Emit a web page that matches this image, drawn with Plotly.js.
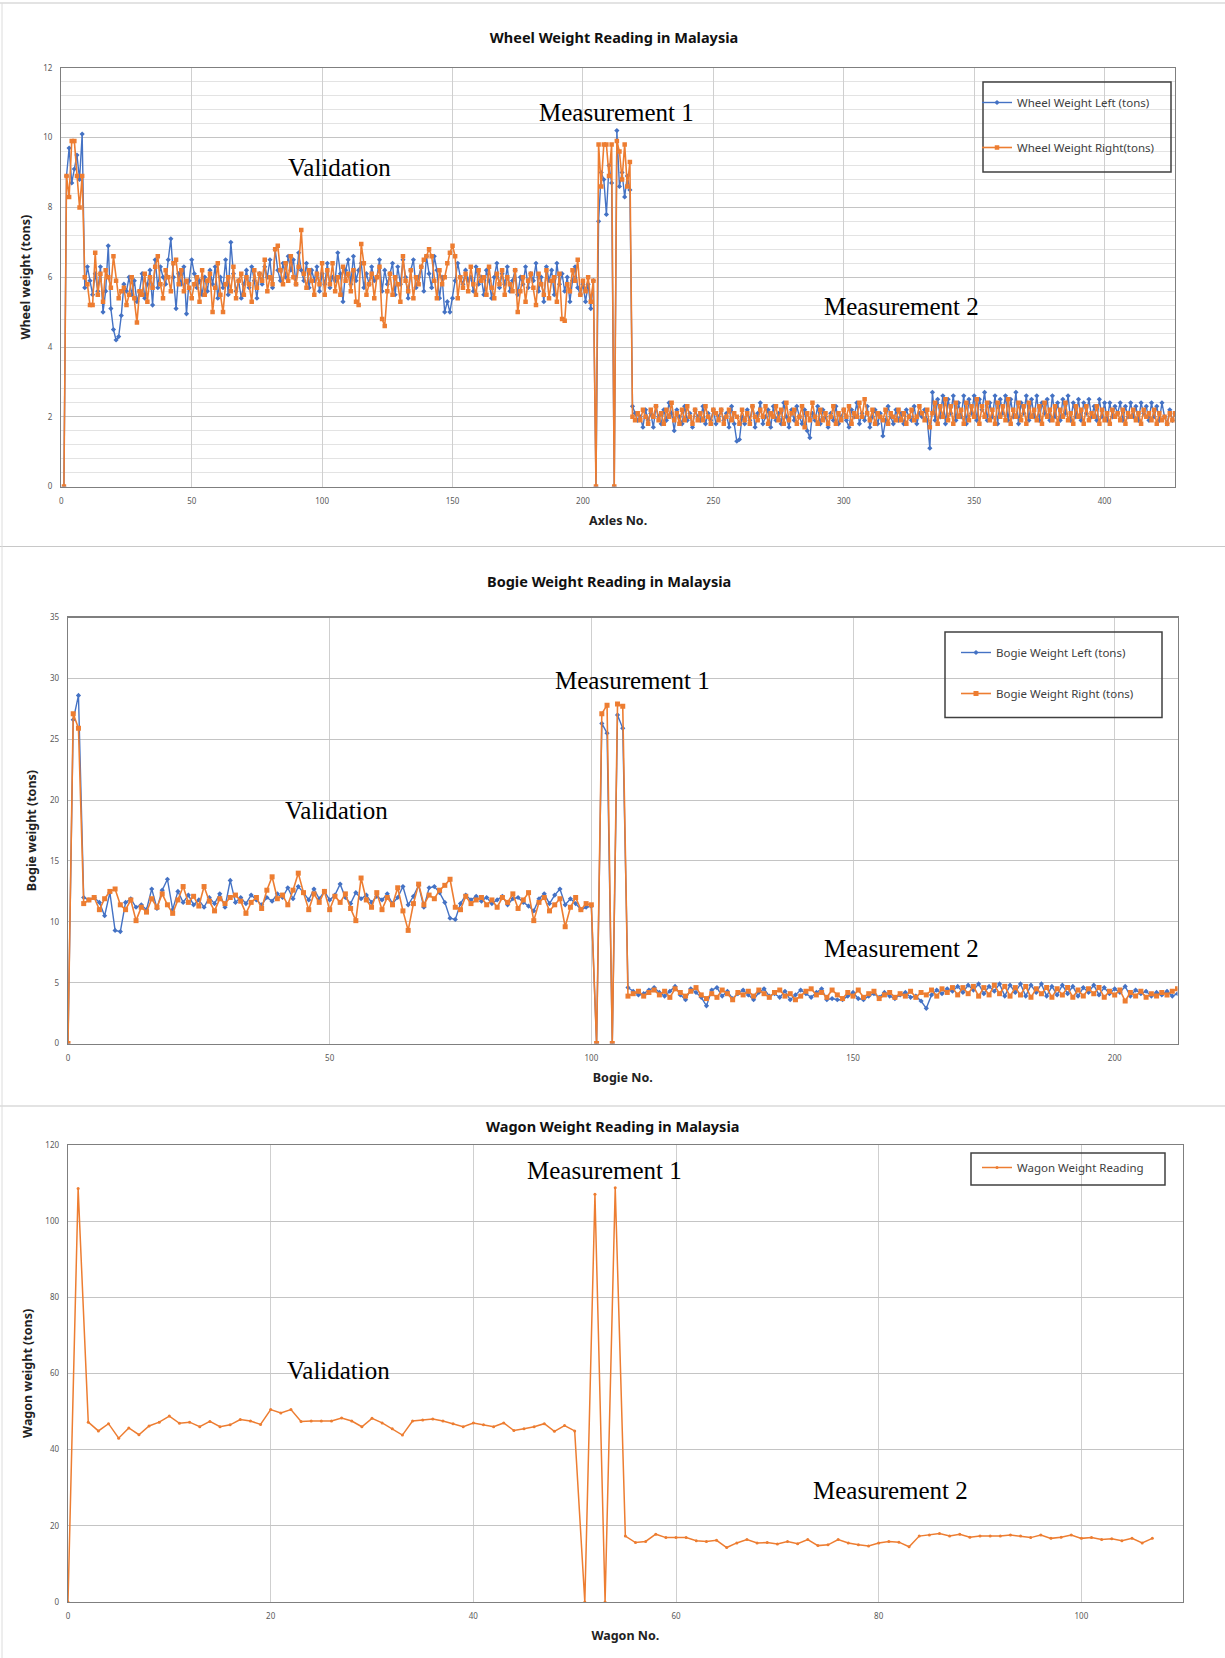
<!DOCTYPE html>
<html>
<head>
<meta charset="utf-8">
<script src="https://cdn.plot.ly/plotly-3.0.1.min.js"></script>
<style>
html,body{margin:0;padding:0;background:#fff;}
#chart{width:1225px;height:1658px;}
</style>
</head>
<body>
<div id="chart"></div>
<script>
// ---------------- DATA ----------------
// Wheel weight (axle 1..427)
const wheelStart = 1;
const wheelLeft = [
0,8.9,9.7,8.7,9.1,9.5,8.8,10.1,5.7,6.3,
5.9,5.5,6.1,5.6,6.3,5.0,5.6,6.9,5.1,4.5,
4.2,4.3,4.9,5.8,5.6,6.0,5.5,5.9,5.3,5.6,
6.1,5.4,5.8,6.2,5.2,6.5,5.7,6.3,6.0,5.8,
6.5,7.1,6.0,5.1,6.1,5.8,6.3,4.95,5.9,6.5,
6.1,5.7,5.9,5.5,6.0,5.6,6.2,5.8,6.3,5.4,
6.0,5.7,6.5,5.5,7.0,6.1,5.6,5.9,5.4,5.8,
6.2,5.7,6.3,5.9,5.4,6.1,5.8,6.3,6.0,6.5,
5.7,6.8,6.2,5.9,6.4,6.0,6.6,6.2,6.5,5.8,
6.7,6.2,5.9,6.4,5.7,6.2,5.9,6.3,5.6,6.1,
5.8,6.4,5.7,6.0,5.9,6.7,6.1,5.3,6.2,6.5,
5.8,6.6,5.9,6.2,6.4,5.7,6.1,5.8,6.3,5.9,
6.0,6.5,5.6,6.2,5.8,6.1,6.4,5.5,6.3,5.8,
6.5,6.0,5.4,6.2,6.5,5.7,6.0,6.3,5.6,6.6,
6.1,5.7,6.6,6.2,5.4,6.0,5.0,5.3,5.0,5.4,
5.9,6.4,6.0,5.8,6.2,5.9,6.0,5.6,6.3,5.8,
6.0,5.5,6.2,5.9,5.4,6.0,6.4,5.7,6.1,5.8,
6.3,5.6,5.9,6.2,5.5,6.0,5.8,6.3,5.7,6.1,
5.9,6.4,5.6,6.0,5.3,6.3,5.9,6.2,5.5,6.4,
5.8,6.1,5.6,6.0,5.3,5.9,6.3,5.7,5.5,5.8,
5.3,5.8,5.1,5.9,0,7.6,9.0,8.8,7.8,9.2,
8.7,0,10.2,8.6,9.0,8.3,8.9,8.5,2.3,2.1,
1.9,2.0,1.7,2.2,1.9,2.1,1.7,2.3,2.0,1.8,
2.2,1.9,2.4,2.1,1.6,2.2,2.0,1.8,2.3,1.9,
2.1,1.7,2.2,2.0,1.9,2.3,1.8,2.1,1.9,2.2,
1.8,2.0,2.2,1.9,2.1,1.7,2.3,1.8,1.3,1.35,
2.0,1.8,2.2,1.9,2.3,1.7,2.1,2.4,1.8,2.0,
2.2,1.7,2.3,1.9,2.1,1.8,2.4,2.0,1.7,2.2,
1.9,2.3,2.0,1.8,2.2,1.6,1.4,2.1,1.9,2.3,
1.8,2.2,2.0,1.7,2.1,1.9,2.3,1.8,2.0,2.2,
1.9,1.7,2.2,2.0,2.4,1.8,2.1,1.9,2.3,1.7,
2.0,2.2,1.8,2.1,1.45,1.9,2.3,2.0,1.8,2.2,
1.9,2.1,1.8,2.2,2.0,1.9,2.3,1.8,2.1,2.0,
2.2,1.9,1.1,2.7,1.9,2.5,2.0,2.6,1.8,2.5,
2.1,2.6,1.9,2.4,2.0,2.6,1.8,2.5,2.1,2.6,
1.9,2.5,2.2,2.7,1.9,2.4,2.0,2.6,1.8,2.5,
2.1,2.6,1.9,2.5,2.0,2.7,1.8,2.4,2.1,2.6,
1.9,2.5,2.0,2.6,1.9,2.4,2.1,2.5,1.9,2.6,
2.0,2.4,1.9,2.5,2.1,2.6,1.9,2.4,2.0,2.5,
1.9,2.4,2.1,2.5,2.0,2.3,1.9,2.5,2.0,2.4,
1.9,2.4,2.0,2.3,2.1,2.4,1.9,2.3,2.0,2.4,
2.0,2.3,1.9,2.4,2.1,2.3,1.9,2.4,2.0,2.3,
1.9,2.4,2.0,1.8,2.2,1.9,2.1
];
const wheelRight = [
0,8.9,8.3,9.9,9.9,8.9,8.0,8.9,6.0,5.8,
5.2,5.2,6.7,5.5,6.1,5.3,6.2,6.0,5.7,6.6,
5.9,5.4,5.6,5.7,5.2,5.5,6.0,5.4,4.7,5.6,
5.5,6.1,5.3,6.0,5.7,6.3,6.6,5.8,5.4,6.2,
6.0,5.6,6.4,6.5,5.8,6.2,5.6,5.9,5.7,5.4,
5.8,6.0,5.3,6.2,5.5,5.9,6.1,5.0,5.7,6.4,
5.5,5.0,5.8,6.0,5.6,6.3,5.4,5.9,6.1,5.5,
6.0,5.8,5.3,6.2,5.7,6.1,5.9,6.5,5.6,6.0,
5.8,6.8,6.9,6.2,5.8,6.4,5.9,6.6,6.0,5.8,
6.3,7.35,6.1,5.7,6.2,5.9,5.5,6.1,5.8,6.4,
5.5,6.2,5.8,6.4,5.6,6.0,5.5,6.3,5.9,6.1,
5.6,6.2,5.3,5.2,6.95,6.4,5.5,5.8,6.1,5.4,
6.0,6.3,4.8,4.6,5.6,6.1,5.5,6.0,5.8,5.3,
6.6,5.9,5.6,6.2,5.4,6.0,5.8,6.3,6.5,6.6,
6.8,6.6,5.9,5.4,6.2,5.8,6.0,6.4,6.7,6.9,
6.6,5.4,6.0,5.7,6.1,5.6,6.3,5.8,5.5,6.2,
5.9,6.0,5.5,6.3,5.7,5.4,6.1,5.8,6.2,5.5,
6.0,5.8,5.6,6.2,5.0,5.6,6.0,5.3,5.9,6.1,
5.7,5.2,6.1,5.8,5.5,6.2,5.4,5.9,6.0,5.3,
6.1,4.8,4.75,5.8,5.6,6.2,5.9,6.5,5.5,5.9,
5.6,6.0,5.3,5.9,0,9.8,8.6,9.8,9.8,8.9,
9.8,0,9.9,9.6,8.8,9.8,8.6,9.3,2.0,1.9,
2.1,1.9,2.2,2.0,1.8,2.2,2.0,2.3,1.9,2.1,
1.8,2.2,2.0,2.4,1.9,2.1,1.8,2.2,1.9,2.3,
2.0,1.8,2.2,1.9,2.1,1.9,2.3,2.0,1.8,2.2,
2.1,1.9,2.2,1.8,2.0,2.2,1.9,2.1,2.0,1.8,
2.2,1.9,2.1,1.8,2.3,2.0,1.9,2.2,2.0,2.3,
1.8,2.1,2.0,2.3,1.9,2.2,1.8,2.4,1.9,2.1,
2.2,1.8,2.0,2.3,1.7,2.1,1.9,2.4,2.0,1.8,
2.2,1.9,2.1,1.8,2.0,2.3,1.8,2.1,1.9,2.2,
2.0,2.3,1.8,2.1,2.0,2.4,2.0,2.5,2.1,1.9,
2.2,1.8,2.1,2.0,1.9,2.2,1.8,2.1,2.0,1.9,
2.2,1.9,2.1,1.8,2.0,2.2,1.9,2.0,2.3,2.1,
1.9,2.2,1.7,2.1,2.4,1.8,2.3,2.0,2.5,1.9,
2.3,1.8,2.4,2.0,2.2,1.8,2.4,1.9,2.3,2.0,
2.5,1.8,2.3,2.0,2.4,1.9,2.2,1.8,2.4,2.0,
2.3,1.9,2.5,1.8,2.2,2.0,2.4,1.9,2.3,1.8,
2.4,2.0,2.2,1.9,2.3,1.8,2.4,2.0,2.2,1.9,
2.3,1.8,2.2,2.0,2.4,1.9,2.1,1.8,2.3,2.0,
2.2,1.8,2.3,1.9,2.1,2.0,2.3,1.8,2.2,1.9,
2.1,1.8,2.2,2.0,2.1,1.9,2.2,1.8,2.1,2.0,
2.2,1.9,2.1,1.8,2.2,2.0,2.1,1.9,2.2,1.8,
2.1,1.9,2.0,1.8,2.1,1.9,2.1
];

// Bogie weight (bogie 0..212)
const bogieStart = 0;
const bogieLeft = [
0,26.6,28.6,12.0,11.8,12.0,11.6,10.5,12.4,9.3,
9.2,11.6,11.9,11.2,11.4,11.0,12.7,11.1,12.6,13.5,
11.0,12.5,11.6,12.2,11.4,11.8,11.2,12.0,11.5,12.3,
11.2,13.4,11.6,12.0,11.5,12.2,11.8,11.4,12.0,11.7,
12.3,12.0,12.8,11.9,12.9,12.4,11.8,12.7,11.9,12.5,
11.8,12.2,13.1,12.0,11.5,12.4,11.9,12.2,11.6,12.1,
11.8,12.3,11.5,12.0,12.9,11.4,12.1,13.0,11.2,12.8,
12.9,12.4,11.6,10.3,10.2,11.5,12.2,11.8,12.1,11.7,
12.0,11.5,11.8,12.1,11.4,11.9,12.0,11.6,11.3,10.9,
11.9,12.3,11.5,12.2,12.7,11.4,11.9,11.5,11.0,11.2,
11.3,0,26.3,25.5,0,27.0,25.9,4.6,4.3,4.0,
4.1,4.4,4.6,4.2,3.9,4.3,4.7,4.0,3.6,4.5,
4.2,3.8,3.1,4.4,4.6,3.9,4.3,3.7,4.1,4.4,
4.0,3.6,4.2,4.5,3.9,4.1,3.8,4.3,3.6,4.0,
4.4,4.1,3.8,4.2,4.5,3.6,3.7,3.6,3.6,3.9,
4.2,3.7,3.6,3.9,4.1,3.8,4.2,3.9,3.7,4.0,
4.2,3.8,3.9,3.5,2.9,4.0,4.4,4.1,4.5,4.3,
4.7,4.2,4.8,4.4,4.9,4.1,4.7,4.3,4.9,3.9,
4.8,4.2,4.9,3.9,4.8,4.2,4.9,3.9,4.7,4.0,
4.8,4.1,4.7,3.9,4.6,4.2,4.8,4.0,4.6,4.1,
4.5,4.2,4.7,3.9,4.4,4.1,4.3,3.9,4.2,4.0,
4.3,3.9,4.1
];
const bogieRight = [
0,27.1,25.9,11.5,11.8,12.0,11.0,11.9,12.5,12.7,
11.4,11.0,11.8,10.1,11.2,10.8,11.9,11.2,12.3,11.4,
10.7,11.8,12.9,11.6,12.1,11.3,12.9,11.7,10.9,11.9,
11.5,12.0,12.2,11.7,10.7,11.6,12.0,11.1,12.6,13.7,
11.9,12.2,11.4,12.6,14.0,12.4,11.0,12.3,11.6,12.5,
11.0,12.1,11.6,12.3,11.1,10.1,13.6,11.8,11.2,12.4,
11.0,12.0,11.4,12.8,10.9,9.3,11.5,13.1,11.4,12.2,
11.9,12.6,13.0,13.5,11.2,11.0,12.1,11.5,11.8,12.0,
11.4,11.8,11.2,12.0,11.6,12.3,11.1,11.8,12.4,10.1,
11.6,12.0,10.9,11.4,11.9,9.6,11.2,12.0,11.0,11.5,
11.4,0,27.1,27.8,0,27.9,27.7,3.9,4.1,4.3,
3.9,4.2,4.4,4.0,4.3,3.8,4.5,4.2,3.9,4.3,
4.6,4.0,3.7,4.1,3.8,4.4,4.1,3.6,4.2,4.0,
4.3,3.9,4.4,4.1,3.8,4.2,4.4,3.9,4.1,3.6,
3.9,4.3,4.5,4.0,4.2,3.8,4.4,4.0,3.7,4.2,
3.9,4.4,3.8,4.1,4.3,3.7,4.0,4.2,3.8,4.1,
3.9,4.3,3.8,4.2,4.0,4.4,3.9,4.5,4.2,4.6,
4.0,4.6,4.1,4.7,3.9,4.6,4.0,4.8,4.1,4.7,
3.9,4.6,4.0,4.7,3.8,4.5,4.1,4.6,3.8,4.5,
4.0,4.6,3.8,4.4,3.9,4.5,4.1,4.6,3.8,4.3,
4.0,4.4,3.5,4.2,3.9,4.3,3.8,4.1,3.9,4.2,
4.0,4.3,4.5
];

// Wagon weight (wagon 0..107)
const wagonStart = 0;
const wagonWeight = [
0,108.5,47.2,44.9,46.8,43.0,45.7,43.9,46.2,47.2,
48.8,46.9,47.2,46.0,47.4,46.0,46.5,47.9,47.5,46.6,
50.5,49.6,50.5,47.4,47.5,47.5,47.5,48.3,47.5,46.0,
48.2,47.0,45.5,43.8,47.5,47.8,48.0,47.5,46.8,46.0,
47.0,46.5,46.0,47.0,45.0,45.5,46.0,46.8,44.8,46.3,
44.9,0,107.0,0,108.7,17.3,15.6,15.9,17.8,16.9,
16.9,16.9,16.1,15.9,16.2,14.3,15.5,16.4,15.5,15.6,
15.2,15.9,15.3,16.4,14.8,15.0,16.4,15.5,15.0,14.7,
15.5,15.9,15.7,14.5,17.3,17.6,18.0,17.3,17.8,17.0,
17.3,17.3,17.3,17.6,17.3,16.9,17.6,16.7,17.0,17.6,
16.7,16.9,16.4,16.6,16.1,16.7,15.5,16.7
];

const titles = ["Wheel Weight Reading in Malaysia","Bogie Weight Reading in Malaysia","Wagon Weight Reading in Malaysia"];
const xTitles = ["Axles No.","Bogie No.","Wagon No."];
const yTitles = ["Wheel weight (tons)","Bogie weight (tons)","Wagon weight (tons)"];
const seriesNames = ["Wheel Weight Left (tons)","Wheel Weight Right(tons)","Bogie Weight Left (tons)","Bogie Weight Right (tons)","Wagon Weight Reading"];
const phaseLabels = ["Validation","Measurement 1","Measurement 2"];

// ---------------- BUILD ----------------
function seq(start, n){ const a=[]; for(let i=0;i<n;i++) a.push(start+i); return a; }
const W=1225, H=1658;
const px = v => v/W;
const py = v => 1 - v/H;

const BLUE='#4472C4', ORANGE='#ED7D31';

const traces = [
 {x:seq(wheelStart,wheelLeft.length), y:wheelLeft, name:seriesNames[0], type:'scatter', mode:'lines+markers',
  line:{color:BLUE,width:1.4}, marker:{color:BLUE,symbol:'diamond',size:4}, xaxis:'x', yaxis:'y', legend:'legend', legendgroup:'a'},
 {x:seq(wheelStart,wheelRight.length), y:wheelRight, name:seriesNames[1], type:'scatter', mode:'lines+markers',
  line:{color:ORANGE,width:1.6}, marker:{color:ORANGE,symbol:'square',size:4.5}, xaxis:'x', yaxis:'y', legend:'legend', legendgroup:'b'},
 {x:seq(bogieStart,bogieLeft.length), y:bogieLeft, name:seriesNames[2], type:'scatter', mode:'lines+markers',
  line:{color:BLUE,width:1.4}, marker:{color:BLUE,symbol:'diamond',size:4}, xaxis:'x2', yaxis:'y2', legend:'legend2', legendgroup:'c'},
 {x:seq(bogieStart,bogieRight.length), y:bogieRight, name:seriesNames[3], type:'scatter', mode:'lines+markers',
  line:{color:ORANGE,width:1.6}, marker:{color:ORANGE,symbol:'square',size:5}, xaxis:'x2', yaxis:'y2', legend:'legend2', legendgroup:'d'},
 {x:seq(wagonStart,wagonWeight.length), y:wagonWeight, name:seriesNames[4], type:'scatter', mode:'lines+markers',
  line:{color:ORANGE,width:1.5}, marker:{color:ORANGE,symbol:'circle',size:3}, xaxis:'x3', yaxis:'y3', legend:'legend3', legendgroup:'e'}
];

const tickFont = {family:'Noto Sans, sans-serif', size:8, color:'#595959'};
const axTitleFont = {family:'Noto Sans, sans-serif', size:12.5, color:'#222', weight:'bold'};
const titleFont = {family:'Noto Sans, sans-serif', size:14.5, color:'#111', weight:'bold'};
const legFont = {family:'Noto Sans, sans-serif', size:11.5, color:'#404040'};
const serif = {family:'Liberation Serif, Times New Roman, serif', size:25, color:'#000'};

function xax(domain, range, dtick, title, anchor){
  return {domain:domain, range:range, dtick:dtick, tick0:0, anchor:anchor, showgrid:true, gridcolor:'#cfcfcf', gridwidth:1,
    showline:true, mirror:true, linecolor:'#7f7f7f', linewidth:1.3, zeroline:false, ticks:'', tickfont:tickFont, ticklabelstandoff:6,
    title:{text:title, font:axTitleFont, standoff:11}, automargin:false, fixedrange:true};
}
function yax(domain, range, dtick, title, anchor, extra){
  return Object.assign({domain:domain, range:range, dtick:dtick, tick0:0, anchor:anchor, showgrid:true, gridcolor:'#c4c4c4', gridwidth:1,
    showline:true, mirror:true, linecolor:'#7f7f7f', linewidth:1.3, zeroline:false, ticks:'', tickfont:tickFont, ticklabelstandoff:6,
    title:{text:title, font:axTitleFont, standoff:10}, automargin:false, fixedrange:true}, extra||{});
}

const layout = {
  width:W, height:H, margin:{l:0,r:0,t:0,b:0}, paper_bgcolor:'#fff', plot_bgcolor:'#fff',
  showlegend:true,
  title:{text:titles[0], font:titleFont, x:px(614), xanchor:'center', y:py(37.5), yanchor:'middle'},
  xaxis: xax([px(61.3), px(1175)], [0,427], 50, xTitles[0], 'y'),
  yaxis: yax([py(486.6), py(67.8)], [0,12], 2, yTitles[0], 'x',
        {minor:{dtick:0.4, showgrid:true, gridcolor:'#e3e3e3', gridwidth:1}}),
  xaxis2: xax([px(68), px(1177.5)], [0,212], 50, xTitles[1], 'y2'),
  yaxis2: yax([py(1043.6), py(617.5)], [0,35], 5, yTitles[1], 'x2'),
  xaxis3: xax([px(68), px(1182.7)], [0,110], 20, xTitles[2], 'y3'),
  yaxis3: yax([py(1602), py(1144.8)], [0,120], 20, yTitles[2], 'x3'),
  legend: {x:px(977), y:py(88), xanchor:'left', yanchor:'top', bgcolor:'rgba(0,0,0,0)', borderwidth:0, font:legFont, tracegroupgap:26, itemwidth:30},
  legend2:{x:px(956), y:py(638), xanchor:'left', yanchor:'top', bgcolor:'rgba(0,0,0,0)', borderwidth:0, font:legFont, tracegroupgap:22, itemwidth:30},
  legend3:{x:px(977), y:py(1153), xanchor:'left', yanchor:'top', bgcolor:'rgba(0,0,0,0)', borderwidth:0, font:legFont, itemwidth:30},
  shapes:[
    {type:'line', xref:'paper', yref:'paper', x0:0, x1:1, y0:py(3), y1:py(3), line:{color:'#c8c8c8', width:1.2}},
    {type:'line', xref:'paper', yref:'paper', x0:0, x1:1, y0:py(546.5), y1:py(546.5), line:{color:'#c8c8c8', width:1.2}},
    {type:'line', xref:'paper', yref:'paper', x0:0, x1:1, y0:py(1106), y1:py(1106), line:{color:'#c8c8c8', width:1.2}},
    {type:'line', xref:'paper', yref:'paper', x0:px(2), x1:px(2), y0:py(3), y1:py(1658), line:{color:'#dcdcdc', width:1}},
    {type:'rect', xref:'paper', yref:'paper', x0:px(983), x1:px(1171), y0:py(172), y1:py(82), line:{color:'#404040', width:1.5}},
    {type:'rect', xref:'paper', yref:'paper', x0:px(945), x1:px(1162), y0:py(717.5), y1:py(632), line:{color:'#404040', width:1.5}},
    {type:'rect', xref:'paper', yref:'paper', x0:px(971), x1:px(1165), y0:py(1185), y1:py(1153), line:{color:'#404040', width:1.5}}
  ],
  annotations:[
    {text:titles[1], xref:'paper', yref:'paper', x:px(609), y:py(581), showarrow:false, font:titleFont, xanchor:'center', yanchor:'middle'},
    {text:titles[2], xref:'paper', yref:'paper', x:px(612), y:py(1126), showarrow:false, font:titleFont, xanchor:'center', yanchor:'middle'},
    {text:phaseLabels[0], xref:'paper', yref:'paper', x:px(339), y:py(168), showarrow:false, font:serif, xanchor:'center', yanchor:'middle'},
    {text:phaseLabels[1], xref:'paper', yref:'paper', x:px(616), y:py(112), showarrow:false, font:serif, xanchor:'center', yanchor:'middle'},
    {text:phaseLabels[2], xref:'paper', yref:'paper', x:px(902), y:py(306), showarrow:false, font:serif, xanchor:'center', yanchor:'middle'},
    {text:phaseLabels[0], xref:'paper', yref:'paper', x:px(336), y:py(811), showarrow:false, font:serif, xanchor:'center', yanchor:'middle'},
    {text:phaseLabels[1], xref:'paper', yref:'paper', x:px(632), y:py(680), showarrow:false, font:serif, xanchor:'center', yanchor:'middle'},
    {text:phaseLabels[2], xref:'paper', yref:'paper', x:px(902), y:py(949), showarrow:false, font:serif, xanchor:'center', yanchor:'middle'},
    {text:phaseLabels[0], xref:'paper', yref:'paper', x:px(338), y:py(1370), showarrow:false, font:serif, xanchor:'center', yanchor:'middle'},
    {text:phaseLabels[1], xref:'paper', yref:'paper', x:px(604), y:py(1170), showarrow:false, font:serif, xanchor:'center', yanchor:'middle'},
    {text:phaseLabels[2], xref:'paper', yref:'paper', x:px(890), y:py(1490), showarrow:false, font:serif, xanchor:'center', yanchor:'middle'}
  ]
};

Plotly.newPlot('chart', traces, layout, {staticPlot:true, displayModeBar:false});
</script>
</body>
</html>
